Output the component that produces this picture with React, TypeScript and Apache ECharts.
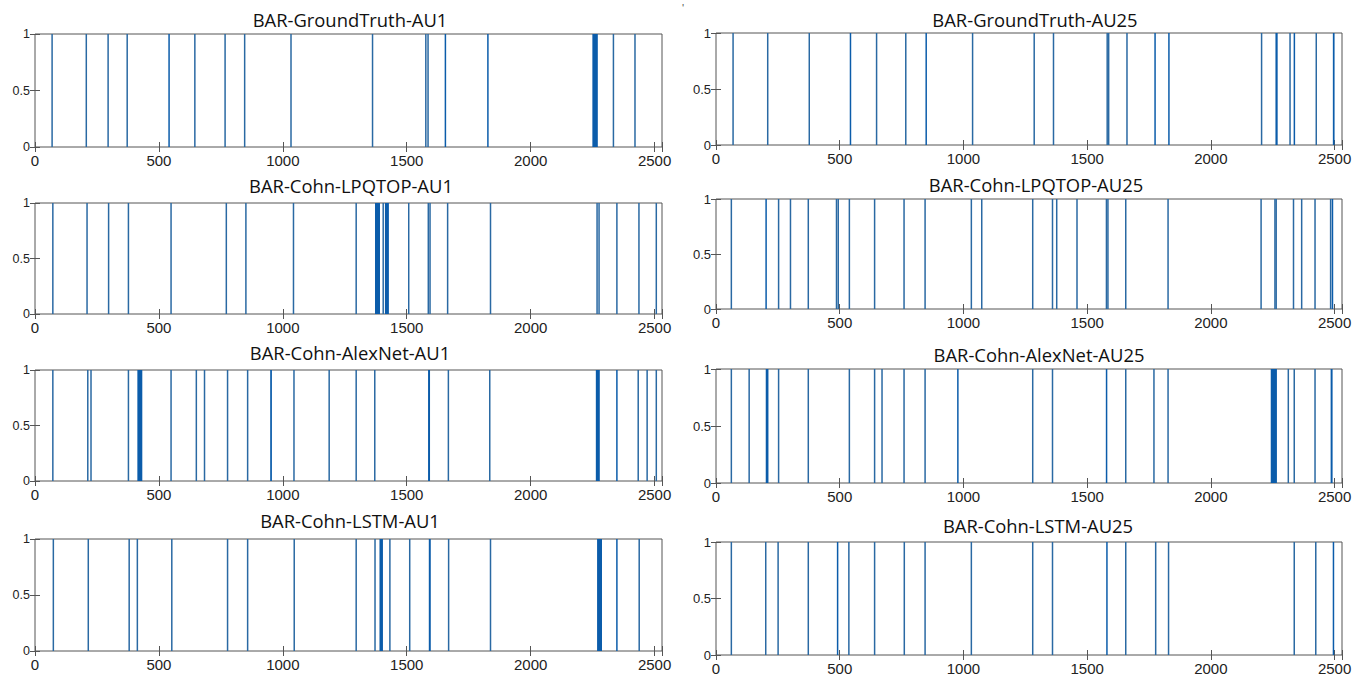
import { useEffect, useRef } from "react";
import * as echarts from "echarts";

// ---------- data ----------
const X_MAX = 2530;
const xTickLabels = [0, 500, 1000, 1500, 2000, 2500];
const yTickLabels = [0, 0.5, 1];

const titles = [
  "BAR-GroundTruth-AU1",
  "BAR-Cohn-LPQTOP-AU1",
  "BAR-Cohn-AlexNet-AU1",
  "BAR-Cohn-LSTM-AU1",
  "BAR-GroundTruth-AU25",
  "BAR-Cohn-LPQTOP-AU25",
  "BAR-Cohn-AlexNet-AU25",
  "BAR-Cohn-LSTM-AU25",
];

// active frame spans [start, end]
const gtAU1: number[][] = [
  [69, 69], [207, 207], [295, 295], [372, 372], [538, 544], [645, 645], [766, 768],
  [845, 847], [1033, 1033], [1362, 1362], [1577, 1577], [1586, 1586], [1653, 1659],
  [1826, 1829], [2249, 2271], [2334, 2334], [2421, 2421],
];
const lpqAU1: number[][] = [
  [72, 72], [209, 211], [297, 297], [377, 377], [549, 549], [771, 773], [851, 851],
  [1043, 1043], [1296, 1296], [1372, 1392], [1405, 1405], [1412, 1428], [1507, 1509],
  [1587, 1587], [1594, 1594], [1664, 1666], [1837, 1839], [2268, 2268], [2276, 2276],
  [2347, 2349], [2437, 2437], [2506, 2508],
];
const alexAU1: number[][] = [
  [72, 72], [212, 214], [225, 227], [376, 378], [413, 433], [548, 550], [651, 651],
  [683, 685], [777, 777], [858, 858], [949, 956], [1045, 1045], [1187, 1187],
  [1296, 1296], [1370, 1372], [1586, 1594], [1668, 1668], [1834, 1836], [2263, 2279],
  [2345, 2351], [2434, 2434], [2470, 2470], [2506, 2508],
];
const lstmAU1: number[][] = [
  [73, 75], [214, 216], [379, 381], [412, 414], [552, 552], [776, 778], [857, 859],
  [1046, 1046], [1295, 1297], [1372, 1372], [1390, 1404], [1432, 1432], [1511, 1513],
  [1589, 1597], [1668, 1670], [1837, 1839], [2268, 2288], [2346, 2350], [2438, 2438],
];
const gtAU25: number[][] = [
  [68, 70], [208, 210], [377, 377], [542, 545], [649, 649], [766, 768], [848, 851],
  [1037, 1037], [1285, 1287], [1364, 1364], [1580, 1582], [1587, 1587], [1661, 1661],
  [1773, 1776], [1829, 1832], [2205, 2205], [2261, 2270], [2319, 2321], [2336, 2339],
  [2426, 2426], [2493, 2500],
];
const lpqAU25: number[][] = [
  [61, 63], [201, 204], [253, 253], [301, 301], [373, 373], [486, 488], [494, 494],
  [538, 540], [641, 641], [759, 761], [844, 846], [1032, 1032], [1074, 1074],
  [1279, 1281], [1360, 1360], [1376, 1378], [1459, 1459], [1577, 1579], [1584, 1584],
  [1656, 1656], [1826, 1828], [2203, 2203], [2258, 2260], [2264, 2264], [2333, 2335],
  [2367, 2367], [2420, 2422], [2484, 2484], [2490, 2493],
];
const alexAU25: number[][] = [
  [61, 63], [134, 134], [201, 212], [253, 253], [373, 373], [538, 540], [640, 642],
  [671, 671], [759, 761], [844, 846], [975, 980], [1280, 1280], [1359, 1361],
  [1576, 1581], [1656, 1656], [1769, 1771], [1826, 1828], [2242, 2267], [2312, 2314],
  [2336, 2338], [2420, 2422], [2484, 2492],
];
const lstmAU25: number[][] = [
  [62, 62], [200, 202], [251, 251], [373, 373], [489, 494], [536, 538], [641, 641],
  [761, 761], [844, 846], [1032, 1032], [1279, 1281], [1359, 1361], [1577, 1583],
  [1656, 1656], [1777, 1777], [1828, 1830], [2336, 2338], [2424, 2424], [2494, 2497],
];

const panelData = [gtAU1, lpqAU1, alexAU1, lstmAU1, gtAU25, lpqAU25, alexAU25, lstmAU25];

// ---------- layout ----------
const grids = [
  { left: 35, top: 34, width: 627, height: 113 },
  { left: 35, top: 203, width: 627, height: 111 },
  { left: 35, top: 370, width: 627, height: 111 },
  { left: 35, top: 539, width: 627, height: 112 },
  { left: 716, top: 33, width: 626, height: 112 },
  { left: 716, top: 199, width: 626, height: 110 },
  { left: 716, top: 369, width: 626, height: 114 },
  { left: 716, top: 542, width: 626, height: 113 },
];
const titlePos = [
  [350, 19], [351, 185], [350, 352], [350, 520],
  [1035, 19], [1036, 184], [1039, 354], [1038, 525],
];

const BORDER = "#555555";
const LABEL_FONT = "'Liberation Sans', Arial, sans-serif";

export default function App() {
  const ref = useRef<HTMLDivElement>(null);
  useEffect(() => {
    if (!ref.current) return;
    const chart = echarts.init(ref.current, undefined, { renderer: "svg" });
    const xAxis: any[] = [];
    const yAxis: any[] = [];
    const series: any[] = [];
    const graphic: any[] = [];
    grids.forEach((g, i) => {
      xAxis.push({
        type: "value", gridIndex: i, min: 0, max: X_MAX, interval: 500, position: "bottom",
        axisLine: { show: false },
        axisTick: { show: true, inside: true, length: 5, lineStyle: { color: BORDER } },
        splitLine: { show: false },
        axisLabel: {
          margin: 6, fontSize: 15, fontFamily: LABEL_FONT, color: "#222",
          formatter: (v: number) => (xTickLabels.indexOf(v) >= 0 ? String(v) : ""),
        },
      });
      xAxis.push({
        type: "value", gridIndex: i, min: 0, max: X_MAX, interval: 500, position: "top",
        axisLine: { show: false },
        axisTick: { show: true, inside: true, length: 5, lineStyle: { color: BORDER } },
        splitLine: { show: false },
        axisLabel: { show: false },
      });
      yAxis.push({
        type: "value", gridIndex: i, min: 0, max: 1, interval: 0.5, position: "left",
        axisLine: { show: false },
        axisTick: { show: true, inside: true, length: 5, lineStyle: { color: BORDER } },
        splitLine: { show: false },
        axisLabel: {
          margin: 5, fontSize: i < 4 ? 12.5 : 13, fontFamily: LABEL_FONT, color: "#222",
          formatter: (v: number) => (yTickLabels.indexOf(v) >= 0 ? String(v) : ""),
        },
      });
      yAxis.push({
        type: "value", gridIndex: i, min: 0, max: 1, interval: 0.5, position: "right",
        axisLine: { show: false },
        axisTick: { show: true, inside: true, length: 5, lineStyle: { color: BORDER } },
        splitLine: { show: false },
        axisLabel: { show: false },
      });
      series.push({
        type: "custom",
        xAxisIndex: i * 2,
        yAxisIndex: i * 2,
        data: panelData[i].map((d) => [d[0], d[1], 1]),
        encode: { x: [0, 1], y: 2 },
        renderItem: (_p: any, api: any) => {
          const s = api.value(0);
          const e = api.value(1);
          const a = api.coord([s, 1]);
          const b = api.coord([e, 0]);
          const w = Math.max(b[0] - a[0], 1.5);
          const cx = (a[0] + b[0]) / 2;
          return {
            type: "rect",
            shape: { x: cx - w / 2, y: a[1], width: w, height: b[1] - a[1] },
            style: { fill: e - s > 2 ? "#0b5caa" : "#2a69a3" },
          };
        },
      });
      graphic.push({
        type: "text",
        x: titlePos[i][0],
        y: titlePos[i][1],
        style: {
          text: titles[i],
          fontSize: 18.4,
          fontFamily: "'Open Sans', sans-serif",
          fill: "#111",
          align: "center",
          verticalAlign: "middle",
        },
      });
    });
    graphic.push({
      type: "text", x: 683, y: 8,
      style: { text: "'", fontSize: 11, fill: "#555", align: "center", verticalAlign: "middle" },
    });

    chart.setOption({
      animation: false,
      backgroundColor: "#ffffff",
      grid: grids.map((g) => ({
        ...g, show: true, borderColor: BORDER, borderWidth: 1, backgroundColor: "transparent",
      })),
      xAxis,
      yAxis,
      series,
      graphic,
    });
    return () => chart.dispose();
  }, []);
  return (
    <div
      ref={ref}
      style={{ position: "absolute", left: 0, top: 0, width: 1364, height: 677, background: "#fff" }}
    />
  );
}
